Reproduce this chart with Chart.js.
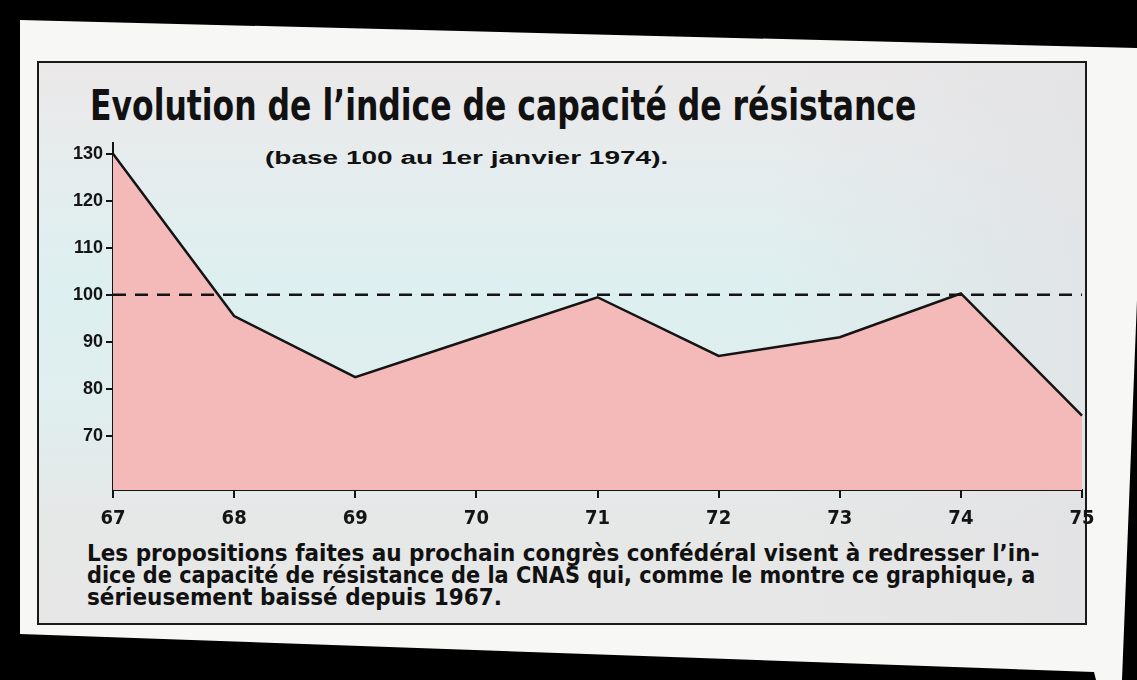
<!DOCTYPE html>
<html lang="fr">
<head>
<meta charset="utf-8">
<script src="https://cdn.jsdelivr.net/npm/chart.js@4"></script>
<style>
  html, body { margin:0; padding:0; }
  body { width:1137px; height:680px; background:#000; position:relative; overflow:hidden; font-family:"Liberation Sans", Arial, sans-serif; }
  #paper { position:absolute; left:0; top:0; width:1137px; height:680px; background:#f7f7f6;
    clip-path: polygon(20px 20px, 1137px 48px, 1137px 300px, 1122px 680px, 1096px 680px, 1094px 672px, 20px 634px); }
  #panel { position:absolute; left:37px; top:61px; width:1046px; height:560px; border:2px solid #1a1a1a;
    background:
      linear-gradient(to right, rgba(230,230,230,0) 0%, rgba(230,230,230,0) 70%, rgba(226,226,228,0.8) 100%),
      linear-gradient(to bottom, #ebe8e9 0%, #e6eced 18%, #ddeff0 40%, #e0eeee 62%, #e6e7e7 82%, #e7e7e7 100%); }
  .txt { position:absolute; white-space:nowrap; color:#111; font-weight:bold; transform-origin:0 50%; }
  #title { left:90px; top:84px; font-family:"DejaVu Sans Condensed","Liberation Sans Narrow",sans-serif; font-size:42px; line-height:44px; }
  #subtitle { left:265px; top:147px; font-family:"Liberation Sans",Arial,sans-serif; font-size:18px; line-height:22px; }
  .cap { left:87px; font-family:"DejaVu Sans Condensed","Liberation Sans Narrow",sans-serif; font-size:23px; line-height:22px; }
  #c1 { top:542px; } #c2 { top:564px; } #c3 { top:586px; }
  #chart { position:absolute; left:0; top:0; }
</style>
</head>
<body>
<div id="paper"></div>
<div id="panel"></div>
<div class="txt" id="title">Evolution de l’indice de capacité de résistance</div>
<div class="txt" id="subtitle">(base 100 au 1er janvier 1974).</div>
<div class="txt cap" id="c1">Les propositions faites au prochain congrès confédéral visent à redresser l’in-</div>
<div class="txt cap" id="c2">dice de capacité de résistance de la CNAS qui, comme le montre ce graphique, a</div>
<div class="txt cap" id="c3">sérieusement baissé depuis 1967.</div>
<canvas id="chart" width="1137" height="680"></canvas>
<script>
// ---- data ----
const years = ['67', '68', '69', '70', '71', '72', '73', '74', '75'];
const indexValues = [130, 95.5, 82.5, 91, 99.5, 87, 91, 100.3, 74.3];
const baseLine = [100, 100, 100, 100, 100, 100, 100, 100, 100];
const yTickValues = [70, 80, 90, 100, 110, 120, 130];

// ---- fit text widths ----
function fit(id, w) {
  const el = document.getElementById(id);
  const s = w / el.scrollWidth;
  el.style.transform = 'scaleX(' + s + ')';
  return s;
}
fit('title', 826);
fit('subtitle', 403);
const cs = fit('c1', 953);
fit('c2', 948);
document.getElementById('c3').style.transform = 'scaleX(' + cs + ')';

// ---- chart ----
const ink = '#141414';
new Chart(document.getElementById('chart'), {
  type: 'line',
  data: {
    labels: years,
    datasets: [
      {
        data: baseLine,
        borderColor: ink,
        borderWidth: 2.5,
        borderDash: [13, 9],
        pointRadius: 0,
        fill: false,
        order: 0
      },
      {
        data: indexValues,
        borderColor: ink,
        borderWidth: 2.5,
        backgroundColor: '#f4bab9',
        pointRadius: 0,
        tension: 0,
        fill: 'start',
        order: 1
      }
    ]
  },
  options: {
    responsive: false,
    animation: false,
    layout: { padding: { left: 40, top: 143, right: 55, bottom: 150 } },
    plugins: { legend: { display: false }, tooltip: { enabled: false }, title: { display: false } },
    scales: {
      x: {
        type: 'category',
        offset: false,
        border: { display: true, color: ink, width: 2 },
        grid: { display: true, drawOnChartArea: false, drawTicks: true, tickLength: 8, color: ink, lineWidth: 2 },
        ticks: { color: ink, padding: 9, maxRotation: 0, autoSkip: false,
                 font: { family: '"DejaVu Sans Condensed", "Liberation Sans", sans-serif', size: 20, weight: 'bold' } },
        afterFit: s => { s.height = 40; }
      },
      y: {
        min: 58.5,
        max: 132.3,
        border: { display: true, color: ink, width: 2 },
        grid: { display: true, drawOnChartArea: false, drawTicks: true, tickLength: 7, color: ink, lineWidth: 2 },
        afterBuildTicks: s => { s.ticks = yTickValues.map(v => ({ value: v })); },
        ticks: { color: ink, padding: 3,
                 font: { family: '"Liberation Sans", Arial, sans-serif', size: 18, weight: 'bold' } },
        afterFit: s => { s.width = 73; }
      }
    }
  }
});
</script>
</body>
</html>
